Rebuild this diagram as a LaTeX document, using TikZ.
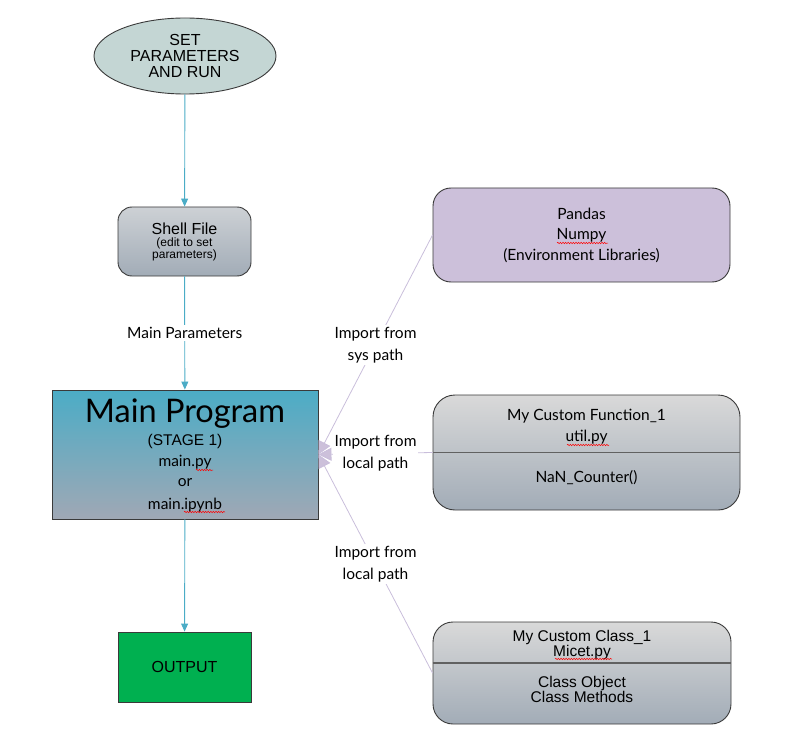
\documentclass[tikz,border=0pt]{standalone}
\usepackage{fontspec}
\setmainfont{Lato}
\newfontfamily\arialf{Liberation Sans}
\usetikzlibrary{shapes.geometric,arrows.meta,decorations.pathmorphing}
\definecolor{flowblue}{HTML}{4BACC6}
\definecolor{lav}{HTML}{C9BEDB}
\definecolor{lavfill}{HTML}{CCC0DA}
\definecolor{ellfill}{HTML}{C4D6D4}
\definecolor{edge}{HTML}{3A3A3A}
\definecolor{outgreen}{HTML}{00B050}
\definecolor{graytop}{HTML}{D9D9D9}
\definecolor{graybot}{HTML}{A2ACB7}
\definecolor{shelltop}{HTML}{CDD1D5}
\definecolor{mainbot}{HTML}{A0A8B5}
\tikzset{
  every node/.style={inner sep=0pt, text=black},
  boxline/.style={draw=edge, line width=0.9pt},
  grayshade/.style={top color=graytop, bottom color=graybot},
  flow/.style={draw=flowblue, line width=0.9pt, -{Triangle[width=7pt,length=8pt]}},
  imp/.style={draw=lav, line width=0.8pt, -{Triangle[width=13pt,length=13pt,fill=lavfill]}},
  lbl/.style={fill=white, inner sep=2pt, font=\fontsize{15.5}{22}\selectfont, align=center},
  sq/.style={draw=red, line width=0.5pt, decorate, decoration={snake, amplitude=0.7pt, segment length=2.6pt}},
  txt/.style={font=\fontsize{15.5}{17}\selectfont},
  atxt/.style={font=\arialf\fontsize{15.5}{17}\selectfont},
}
\begin{document}
\begin{tikzpicture}[x=1pt,y=-1pt]
\useasboundingbox (0,0) rectangle (803,746);
% nodes
\node[ellipse, boxline, fill=ellfill, minimum width=182pt, minimum height=76pt, align=center,
  font=\arialf\fontsize{16}{16}\selectfont] (ell) at (185,56) {SET\\PARAMETERS\\AND RUN};
\node[rectangle, rounded corners=14pt, boxline, top color=shelltop, bottom color=graybot,
  minimum width=133pt, minimum height=69pt] (shell) at (184.5,241.5) {};
\node[font=\arialf\fontsize{16}{17}\selectfont] (shellt) at (184.5,229) {Shell File};
\node[font=\arialf\fontsize{12}{12}\selectfont, align=center] (shells) at (184.5,249) {(edit to set\\parameters)};
\node[rectangle, draw=edge, line width=0.9pt, top color=flowblue, bottom color=mainbot,
  minimum width=266pt, minimum height=129pt] (main) at (185,454.5) {};
\node[font=\fontsize{32.5}{33}\selectfont] (mt) at (185,414) {Main Program};
\node[atxt] (ms) at (185,441) {(STAGE 1)};
\node[txt] (m1) at (185,462) {main.py};
\node[txt] (m2) at (185,483) {or};
\node[txt] (m3) at (185,505) {main.ipynb};
\node[rectangle, boxline, fill=outgreen, minimum width=133pt, minimum height=70pt,
  font=\arialf\fontsize{16}{17}\selectfont] (out) at (184.5,667) {OUTPUT};
\node[rectangle, rounded corners=18pt, boxline, fill=lavfill, minimum width=297pt, minimum height=94pt] (pandas) at (581.5,235) {};
\node[txt] (p1) at (581.5,214) {Pandas};
\node[txt] (p2) at (581.5,235) {Numpy};
\node[txt] (p3) at (581.5,256) {(Environment Libraries)};
\node[rectangle, rounded corners=22pt, boxline, grayshade,
  minimum width=307pt, minimum height=115pt] (func) at (586.5,452.5) {};
\node[txt] (f1) at (586.5,416) {My Custom Function\_1};
\node[txt] (f2) at (586.5,437) {util.py};
\node[txt] (f3) at (586.5,478) {NaN\_Counter()};
\node[rectangle, rounded corners=20pt, boxline, grayshade,
  minimum width=298pt, minimum height=102pt] (cls) at (582,673) {};
\node[atxt] (c1) at (582,637) {My Custom Class\_1};
\node[atxt] (c2) at (582,652) {Micet.py};
\node[atxt] (c3) at (582,683) {Class Object};
\node[atxt] (c4) at (582,697) {Class Methods};
% dividers
\draw[draw=edge!80, line width=1pt] (func.west |- 0,452) -- (func.east |- 0,452);
\draw[draw=edge!80, line width=1.2pt] (cls.west |- 0,663) -- (cls.east |- 0,663);
% flow connectors
\draw[flow] (ell) -- (shell);
\draw[flow] (shell) -- node[lbl, pos=0.5] {Main Parameters} (main);
\draw[flow] (main) -- (out);
% import connectors
\coordinate (tgt) at (main.east);
\draw[imp] (pandas.west) -- node[lbl, pos=0.5] {Import from\\sys path} (tgt);
\draw[imp] (func.west) -- node[lbl, pos=0.5] {Import from\\local path} (tgt);
\draw[imp] (cls.west) -- node[lbl, pos=0.5] {Import from\\local path} (tgt);
% spell-check squiggles
\draw[sq] (557,243) -- (608,243);
\draw[sq] (567,445) -- (609,445);
\draw[sq] (196,470) -- (213,470);
\draw[sq] (184,512) -- (225,512);
\draw[sq] (555,659) -- (612,659);
\end{tikzpicture}
\end{document}
